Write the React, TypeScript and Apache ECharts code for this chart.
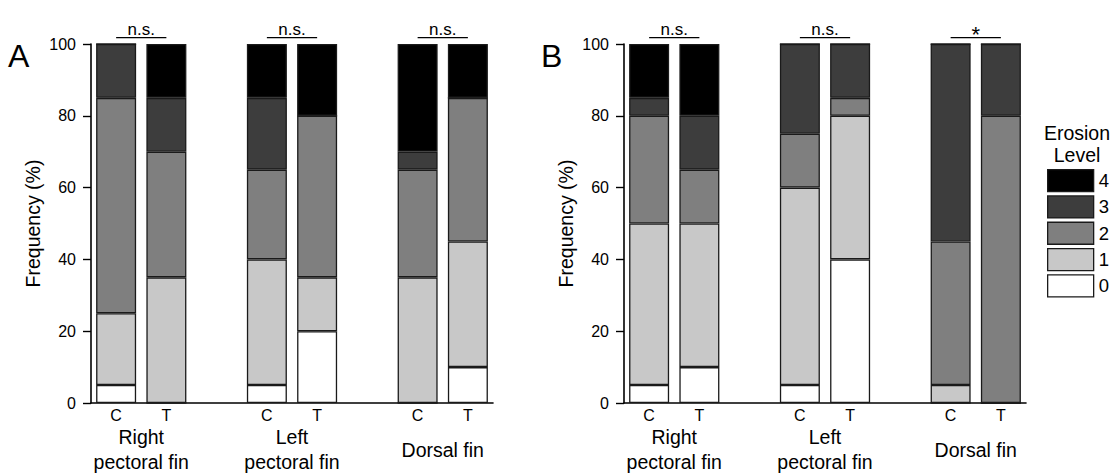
import React, { useEffect, useRef } from "react";
import * as echarts from "echarts";

const levels = ["0", "1", "2", "3", "4"];
const levelColors = ["#ffffff", "#c8c8c8", "#7f7f7f", "#3d3d3d", "#000000"];
const legendOrder = ["4", "3", "2", "1", "0"];

const categories = ["Right C", "Right T", "gap1", "Left C", "Left T", "gap2", "Dorsal C", "Dorsal T"];
const barLabels = ["C", "T", "", "C", "T", "", "C", "T"];
const groupSlots = ["g0", "Right pectoral fin", "g2", "g3", "Left pectoral fin", "g5", "g6", "Dorsal fin", "g8"];
const groupLabels = ["", "Right\npectoral fin", "", "", "Left\npectoral fin", "", "", "Dorsal fin", ""];
const yTicks = [0, 20, 40, 60, 80, 100];

// bars order: Right C, Right T, Left C, Left T, Dorsal C, Dorsal T
const panelA_level0 = [5, 0, 5, 20, 0, 10];
const panelA_level1 = [20, 35, 35, 15, 35, 35];
const panelA_level2 = [60, 35, 25, 45, 30, 40];
const panelA_level3 = [15, 15, 20, 0, 5, 0];
const panelA_level4 = [0, 15, 15, 20, 30, 15];

const panelB_level0 = [5, 10, 5, 40, 0, 0];
const panelB_level1 = [45, 40, 55, 40, 5, 0];
const panelB_level2 = [30, 15, 15, 5, 40, 80];
const panelB_level3 = [5, 15, 25, 15, 55, 20];
const panelB_level4 = [15, 20, 0, 0, 0, 0];

const panelASig = ["n.s.", "n.s.", "*"].slice(0, 2).concat(["n.s."]);
const panelBSig = ["n.s.", "n.s.", "*"];
const panelLetters = ["A", "B"];

const FONT = "'Liberation Sans', Arial, Helvetica, sans-serif";

const toSlots = (vals: number[]) => [vals[0], vals[1], "-", vals[2], vals[3], "-", vals[4], vals[5]];

export default function App() {
  const ref = useRef<HTMLDivElement>(null);
  useEffect(() => {
    document.body.style.margin = "0";
    const chart = echarts.init(ref.current!, null, { renderer: "svg" });
    const panels = [
      { levels: [panelA_level0, panelA_level1, panelA_level2, panelA_level3, panelA_level4], left: 91, sig: panelASig },
      { levels: [panelB_level0, panelB_level1, panelB_level2, panelB_level3, panelB_level4], left: 624, sig: panelBSig },
    ];
    const grids: any[] = [];
    const xAxes: any[] = [];
    const yAxes: any[] = [];
    const series: any[] = [];
    panels.forEach((p, pi) => {
      grids.push({ left: p.left, top: 44, width: 402, height: 359 });
      xAxes.push({
        gridIndex: pi,
        type: "category",
        position: "bottom",
        data: categories,
        axisLine: { show: true, lineStyle: { color: "#000", width: 1.6 } },
        axisTick: { show: false },
        axisLabel: {
          interval: 0,
          formatter: (_v: string, i: number) => barLabels[i],
          margin: 12,
          verticalAlign: "middle",
          fontSize: 16,
          color: "#000",
          fontFamily: FONT,
        },
      });
      xAxes.push({
        gridIndex: pi,
        type: "category",
        position: "bottom",
        boundaryGap: false,
        data: groupSlots,
        axisLine: { show: false },
        axisTick: { show: false },
        axisLabel: {
          interval: 0,
          formatter: (_v: string, i: number) => groupLabels[i],
          margin: 46.5,
          verticalAlign: "middle",
          lineHeight: 25,
          fontSize: 19.5,
          color: "#000",
          fontFamily: FONT,
        },
      });
      yAxes.push({
        gridIndex: pi,
        type: "value",
        min: yTicks[0],
        max: yTicks[yTicks.length - 1],
        interval: 20,
        axisLine: { show: true, lineStyle: { color: "#000", width: 1.6 } },
        axisTick: { show: true, length: 8, lineStyle: { color: "#000", width: 1.4 } },
        axisLabel: { margin: 15, fontSize: 16, color: "#000", fontFamily: FONT },
        splitLine: { show: false },
        name: "Frequency (%)",
        nameLocation: "middle",
        nameGap: 48,
        nameTextStyle: { fontSize: 19.5, color: "#000", fontFamily: FONT },
      });
      p.levels.forEach((vals, li) => {
        series.push({
          type: "bar",
          name: levels[li],
          stack: "panel" + pi,
          xAxisIndex: pi * 2,
          yAxisIndex: pi,
          barWidth: 40,
          data: toSlots(vals),
          itemStyle: { color: levelColors[li], borderColor: "#1a1a1a", borderWidth: 1.3 },
          emphasis: { disabled: true },
        });
      });
    });

    chart.setOption({
      animation: false,
      title: [
        { text: panelLetters[0], left: 8, top: 40, padding: 0, textStyle: { fontSize: 32, fontWeight: "normal", color: "#000", fontFamily: FONT } },
        { text: panelLetters[1], left: 541, top: 40, padding: 0, textStyle: { fontSize: 32, fontWeight: "normal", color: "#000", fontFamily: FONT } },
        { text: "Erosion\nLevel", left: 1077, textAlign: "center", top: 122, padding: 0, textStyle: { fontSize: 19.5, lineHeight: 22, fontWeight: "normal", color: "#000", fontFamily: FONT } },
      ],
      legend: {
        orient: "vertical",
        left: 1047,
        top: 169,
        padding: 0,
        itemWidth: 46,
        itemHeight: 22,
        itemGap: 3,
        icon: "rect",
        selectedMode: false,
        data: legendOrder,
        itemStyle: { borderColor: "#1a1a1a", borderWidth: 1.3 },
        textStyle: { fontSize: 18.5, color: "#000", fontFamily: FONT },
      },
      grid: grids,
      xAxis: xAxes,
      yAxis: yAxes,
      series,
    });

    const graphics: any[] = [];
    panels.forEach((p, pi) => {
      const yTop = chart.convertToPixel({ yAxisIndex: pi }, 100) as number;
      for (let g = 0; g < 3; g++) {
        const xc = chart.convertToPixel({ xAxisIndex: pi * 2 }, categories[g * 3]) as number;
        const xt = chart.convertToPixel({ xAxisIndex: pi * 2 }, categories[g * 3 + 1]) as number;
        const y = yTop - 6.3;
        graphics.push({
          type: "line",
          shape: { x1: xc, y1: y, x2: xt, y2: y },
          style: { stroke: "#000", lineWidth: 1.3 },
          silent: true,
        });
        const isStar = p.sig[g] === "*";
        graphics.push({
          type: "text",
          x: (xc + xt) / 2,
          y: isStar ? y - 3 : y - 8.5,
          silent: true,
          style: {
            text: p.sig[g],
            align: "center",
            verticalAlign: "middle",
            textAlign: "center",
            textVerticalAlign: "middle",
            fontSize: isStar ? 22 : 17,
            fontFamily: FONT,
            fill: "#000",
          },
        });
      }
    });
    chart.setOption({ graphic: graphics });

    return () => chart.dispose();
  }, []);
  return <div ref={ref} style={{ width: 1112, height: 475 }} />;
}
